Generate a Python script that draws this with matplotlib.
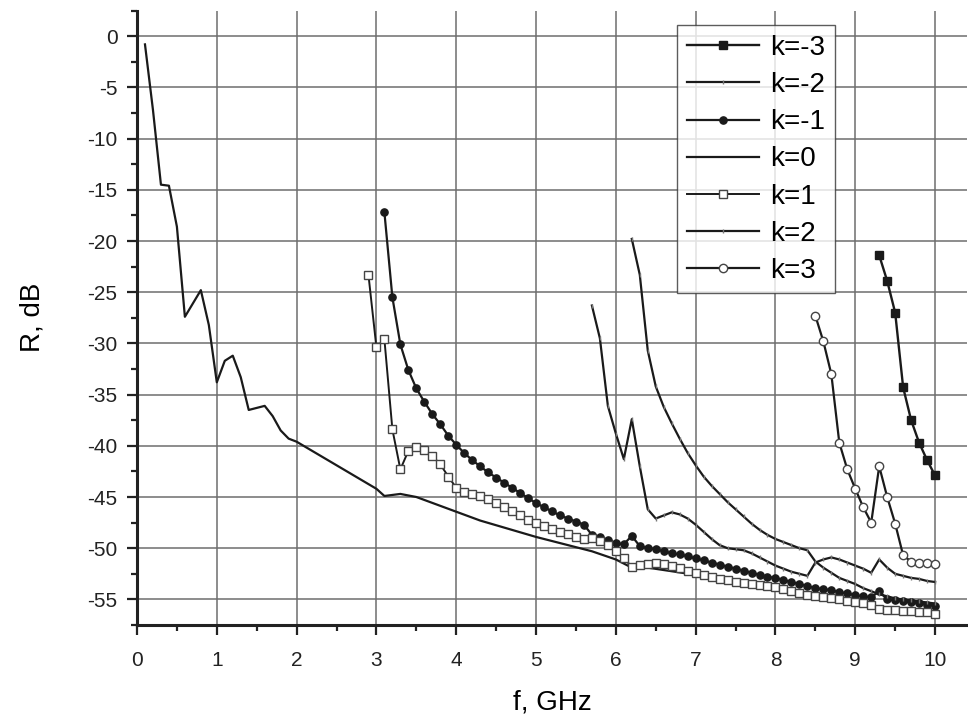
import matplotlib
matplotlib.use("Agg")
import matplotlib.pyplot as plt
import numpy as np

plt.rcParams['font.family'] = ['Liberation Sans', 'DejaVu Sans']
plt.rcParams['axes.unicode_minus'] = False

# k=0 : plain line (break points)
f0 = [0.1, 0.2, 0.3, 0.4, 0.5, 0.6, 0.8, 0.9, 1.0, 1.1, 1.2, 1.3, 1.4, 1.6, 1.7,
      1.8, 1.9, 2.0, 2.5, 3.0, 3.1, 3.3, 3.5, 4.3, 5.0, 5.7, 6.0, 6.2, 6.4, 7.0,
      8.0, 8.5, 9.0, 9.3, 10.0]
r0 = [-0.8, -7.2, -14.5, -14.6, -18.6, -27.4, -24.8, -28.2, -33.8, -31.7, -31.2,
      -33.3, -36.5, -36.1, -37.1, -38.5, -39.3, -39.6, -41.9, -44.2, -44.9, -44.7,
      -45.0, -47.3, -48.9, -50.3, -51.1, -51.9, -51.9, -52.6, -53.9, -54.8, -55.3,
      -55.7, -56.2]

# k=-1 : filled circles, 3.1 .. 10.0 step 0.1
r_m1 = [-17.2, -25.5, -30.1, -32.6, -34.4, -35.7, -36.9, -37.9, -39.0, -39.9,
        -40.7, -41.4, -42.0, -42.6, -43.1, -43.6, -44.1, -44.6, -45.1, -45.6,
        -46.0, -46.4, -46.8, -47.1, -47.4, -47.7, -48.7, -48.9, -49.2, -49.5,
        -49.6, -48.8, -49.8, -50.0, -50.1, -50.3, -50.5, -50.6, -50.8, -51.0,
        -51.2, -51.4, -51.6, -51.8, -52.0, -52.2, -52.4, -52.6, -52.8, -52.9,
        -53.1, -53.3, -53.5, -53.7, -53.9, -54.0, -54.1, -54.3, -54.4, -54.6,
        -54.7, -54.8, -54.2, -55.0, -55.1, -55.2, -55.3, -55.4, -55.5, -55.6]

# k=1 : open squares, 2.9 .. 10.0 step 0.1
r_p1 = [-23.3, -30.4, -29.6, -38.4, -42.3, -40.5, -40.1, -40.4, -41.0, -41.8,
        -43.0, -44.1, -44.5, -44.7, -44.9, -45.2, -45.6, -46.0, -46.4, -46.8,
        -47.2, -47.5, -47.8, -48.1, -48.4, -48.6, -48.9, -49.1, -49.0, -49.3,
        -49.7, -50.3, -51.0, -51.8, -51.6, -51.5, -51.4, -51.5, -51.7, -51.9,
        -52.2, -52.4, -52.6, -52.8, -53.0, -53.1, -53.3, -53.4, -53.5, -53.6,
        -53.7, -53.8, -54.0, -54.2, -54.4, -54.6, -54.7, -54.8, -54.9, -55.0,
        -55.2, -55.3, -55.4, -55.5, -55.9, -56.0, -56.0, -56.1, -56.1, -56.2,
        -56.2, -56.4]

# k=-2 : 5.7 .. 10.0 step 0.1
r_m2 = [-26.3, -29.5, -36.1, -38.8, -41.3, -37.4, -42.0, -46.2, -47.1, -46.8,
        -46.5, -46.7, -47.1, -47.7, -48.4, -49.1, -49.7, -50.0, -50.1, -50.2,
        -50.5, -50.9, -51.3, -51.7, -52.0, -52.3, -52.5, -52.7, -51.4, -51.1,
        -50.9, -51.1, -51.4, -51.7, -52.0, -52.4, -51.1, -51.9, -52.5, -52.7,
        -52.9, -53.0, -53.2, -53.3]

# k=2 : 6.2 .. 10.0 step 0.1
r_p2 = [-19.8, -23.3, -30.7, -34.2, -36.2, -37.8, -39.3, -40.7, -41.9, -43.0,
        -43.9, -44.7, -45.5, -46.2, -46.9, -47.6, -48.2, -48.7, -49.1, -49.4,
        -49.7, -50.0, -50.2, -51.3, -51.9, -52.4, -52.9, -53.2, -53.5, -53.9,
        -54.2, -54.5, -54.7, -54.9, -55.0, -55.1, -55.2, -55.3, -55.4]

# k=3 : open circles, 8.5 .. 10.0 step 0.1
r_p3 = [-27.3, -29.8, -33.0, -39.7, -42.3, -44.2, -46.0, -47.5, -42.0, -45.0,
        -47.6, -50.7, -51.3, -51.4, -51.4, -51.5]

# k=-3 : filled squares, 9.3 .. 10.0 step 0.1
r_m3 = [-21.4, -23.9, -27.0, -34.3, -37.5, -39.7, -41.4, -42.9]

starts = {'k=-3': 9.3, 'k=-2': 5.7, 'k=-1': 3.1, 'k=1': 2.9, 'k=2': 6.2, 'k=3': 8.5}


def fx(start, vals):
    return np.round(start + 0.1 * np.arange(len(vals)), 2)


fig = plt.figure(figsize=(9.68, 7.22), dpi=100)
ax = fig.add_axes([137 / 968, 1 - 625 / 722, 830 / 968, 614.4 / 722])

lc = '#1a1a1a'
ax.plot(fx(starts['k=-3'], r_m3), r_m3, '-', color=lc, lw=1.7, marker='s', ms=6,
        mfc=lc, mec=lc, label='k=-3')
ax.plot(fx(starts['k=-2'], r_m2), r_m2, '-', color=lc, lw=1.6, marker='|', ms=3,
        mec='#777777', label='k=-2')
ax.plot(fx(starts['k=-1'], r_m1), r_m1, '-', color=lc, lw=1.6, marker='o', ms=5.2,
        mfc=lc, mec=lc, label='k=-1')
ax.plot(f0, r0, '-', color=lc, lw=1.6, label='k=0')
ax.plot(fx(starts['k=1'], r_p1), r_p1, '-', color=lc, lw=1.4, marker='s', ms=5.3,
        mfc='white', mec='#444444', mew=1.0, label='k=1')
ax.plot(fx(starts['k=2'], r_p2), r_p2, '-', color=lc, lw=1.6, marker='|', ms=3,
        mec='#777777', label='k=2')
ax.plot(fx(starts['k=3'], r_p3), r_p3, '-', color=lc, lw=1.6, marker='o', ms=6,
        mfc='white', mec='#444444', mew=1.0, label='k=3')

ax.set_xlim(0, 10.4)
ax.set_ylim(-57.5, 2.5)
ax.set_xticks(np.arange(0, 11, 1))
ax.set_xticks(np.arange(0.5, 10.5, 1), minor=True)
ax.set_yticks(np.arange(-55, 1, 5))
ax.set_yticks(np.arange(-57.5, 2.6, 5), minor=True)
ax.grid(True, which='major', color='#6e6e6e', lw=1.1)
ax.set_axisbelow(True)

for s in ['top', 'right']:
    ax.spines[s].set_visible(False)
for s in ['left', 'bottom']:
    ax.spines[s].set_linewidth(2.2)
    ax.spines[s].set_color('#222222')

ax.tick_params(which='major', direction='out', length=7, width=1.6, labelsize=15,
               colors='#222222')
ax.tick_params(axis='x', which='major', pad=12)
ax.tick_params(axis='y', which='major', pad=7)
ax.tick_params(which='minor', direction='out', length=4, width=1.6, colors='#222222')

ax.set_xlabel('f, GHz', fontsize=20, labelpad=14)
ax.set_ylabel('R, dB', fontsize=20, labelpad=30)

leg = ax.legend(loc='upper left', bbox_to_anchor=(0.651, 0.976), fontsize=20,
                frameon=True, fancybox=False, edgecolor='#333333',
                labelspacing=0.4, handlelength=2.6, handletextpad=0.4,
                borderpad=0.35, borderaxespad=0)
leg.get_frame().set_linewidth(1.0)

fig.savefig('out.png', dpi=100)
